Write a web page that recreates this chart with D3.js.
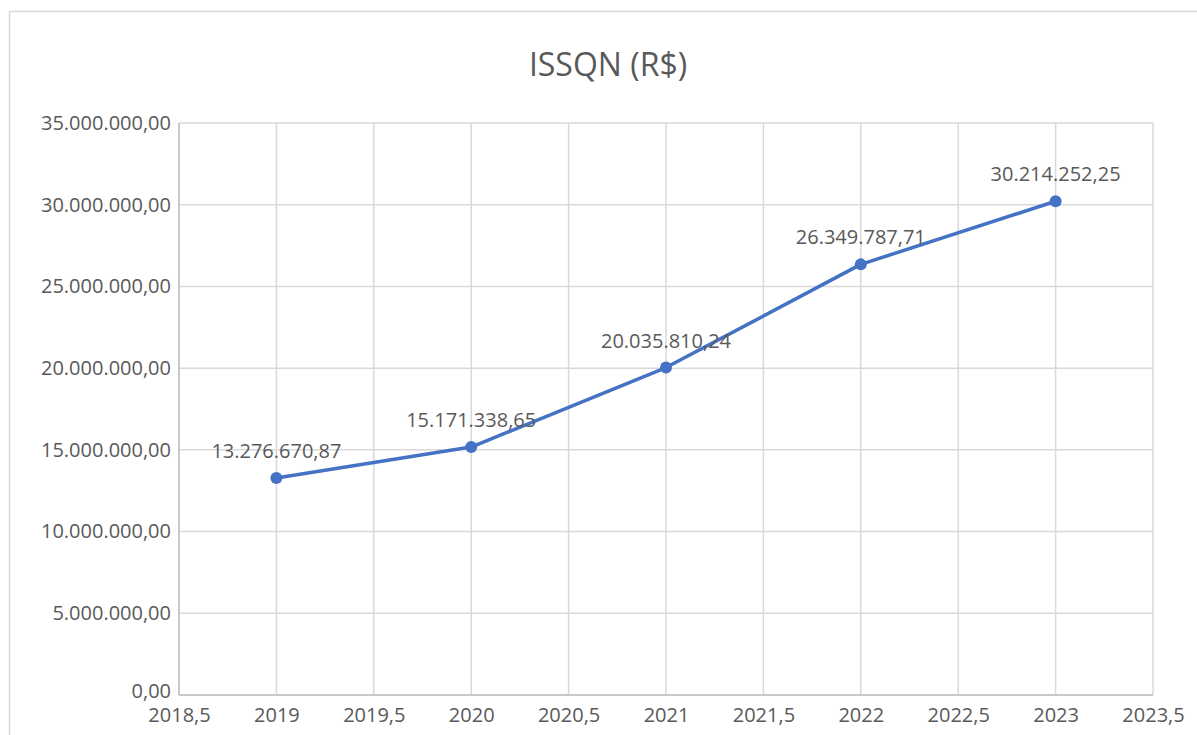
<!DOCTYPE html>
<html>
<head>
<meta charset="utf-8">
<script src="https://cdn.jsdelivr.net/npm/d3@7"></script>
<style>
  body { margin: 0; background: #fff; }
  text { font-family: "Open Sans", "Liberation Sans", sans-serif; fill: #595959; }
</style>
</head>
<body>
<div class="CHART"></div>
<script>
// chart values
var years = [2019, 2020, 2021, 2022, 2023];
var issqn = [13276670.87, 15171338.65, 20035810.24, 26349787.71, 30214252.25];
var xTicks = [2018.5, 2019, 2019.5, 2020, 2020.5, 2021, 2021.5, 2022, 2022.5, 2023, 2023.5];
var yTicks = [0, 5000000, 10000000, 15000000, 20000000, 25000000, 30000000, 35000000];
var title = "ISSQN (R$)";

var W = 1197, H = 735;
var margin = {top: 123, right: 44, bottom: 40, left: 179},
    width = W - margin.left - margin.right,
    height = H - margin.top - margin.bottom;

var svg = d3.select(".CHART").append("svg")
    .attr("width", W)
    .attr("height", H);

// outer chart border
svg.append("rect")
    .attr("x", 9.5).attr("y", 11.5)
    .attr("width", W + 20).attr("height", H + 20)
    .attr("fill", "none")
    .attr("stroke", "#d9d9d9")
    .attr("stroke-width", 1.5);

var ptBR = d3.formatLocale({decimal: ",", thousands: ".", grouping: [3], currency: ["R$", ""]});
var fmtY = ptBR.format(",.2f");
var fmtX = function(d) { return String(d).replace(".", ","); };

var x = d3.scaleLinear().domain([2018.5, 2023.5]).range([0, width]);
var y = d3.scaleLinear().domain([0, 35000000]).range([height, 0]);

var g = svg.append("g").attr("transform", "translate(" + margin.left + "," + margin.top + ")");

// gridlines
g.selectAll(".vgrid").data(xTicks).enter().append("line")
    .attr("x1", function(d) { return x(d); }).attr("x2", function(d) { return x(d); })
    .attr("y1", 0).attr("y2", height)
    .attr("stroke", "#d9d9d9").attr("stroke-width", 1.5);
g.selectAll(".hgrid").data(yTicks).enter().append("line")
    .attr("x1", 0).attr("x2", width)
    .attr("y1", function(d) { return y(d); }).attr("y2", function(d) { return y(d); })
    .attr("stroke", "#d9d9d9").attr("stroke-width", 1.5);

// axes lines
g.append("line").attr("x1", 0).attr("x2", 0).attr("y1", 0).attr("y2", height)
    .attr("stroke", "#bfbfbf").attr("stroke-width", 1.5);
g.append("line").attr("x1", 0).attr("x2", width).attr("y1", height).attr("y2", height)
    .attr("stroke", "#bfbfbf").attr("stroke-width", 1.5);

// y axis labels
var yAxis = d3.axisLeft(y).tickValues(yTicks).tickFormat(fmtY).tickSize(0).tickPadding(8);
var ya = g.append("g").call(yAxis);
ya.select(".domain").remove();
ya.selectAll("text").attr("font-size", "20px").attr("font-family", null).attr("fill", "#595959");
// nudge the zero label up a bit so it clears the first x label
ya.selectAll(".tick").filter(function(d) { return d === 0; }).select("text").attr("dy", "0.1em");

// x axis labels
var xAxis = d3.axisBottom(x).tickValues(xTicks).tickFormat(fmtX).tickSize(0).tickPadding(13);
var xa = g.append("g").attr("transform", "translate(0," + height + ")").call(xAxis);
xa.select(".domain").remove();
xa.selectAll("text").attr("font-size", "20px").attr("font-family", null).attr("fill", "#595959");

// line
var line = d3.line()
    .x(function(d, i) { return x(years[i]); })
    .y(function(d) { return y(d); });

g.append("path")
    .datum(issqn)
    .attr("d", line)
    .attr("fill", "none")
    .attr("stroke", "#4472c4")
    .attr("stroke-width", 3.5)
    .attr("stroke-linejoin", "round");

g.selectAll(".dot").data(issqn).enter().append("circle")
    .attr("cx", function(d, i) { return x(years[i]); })
    .attr("cy", function(d) { return y(d); })
    .attr("r", 6)
    .attr("fill", "#4472c4");

// data labels
g.selectAll(".lbl").data(issqn).enter().append("text")
    .attr("x", function(d, i) { return x(years[i]); })
    .attr("y", function(d) { return y(d) - 20; })
    .attr("text-anchor", "middle")
    .attr("font-size", "20px")
    .attr("fill", "#404040")
    .text(function(d) { return fmtY(d); });

// title
svg.append("text")
    .attr("x", 608)
    .attr("y", 76)
    .attr("text-anchor", "middle")
    .attr("font-size", "32px")
    .text(title);
</script>
</body>
</html>
